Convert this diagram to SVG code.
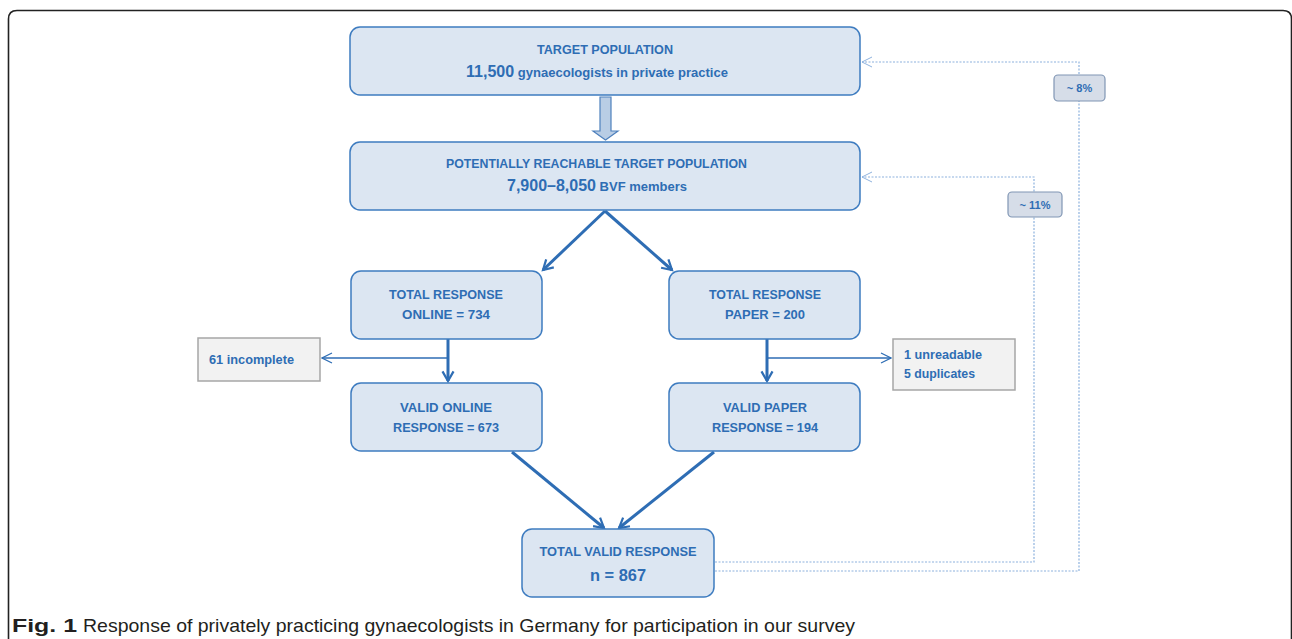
<svg xmlns="http://www.w3.org/2000/svg" width="1292" height="639" viewBox="0 0 1292 639">
<style>
.node{fill:#dce6f2;stroke:#3e7cc0;stroke-width:1.5}
.side{fill:#f2f2f2;stroke:#a6a6a6;stroke-width:1.5}
.pct{fill:#d6dde8;stroke:#8096b4;stroke-width:1.2}
text{font-family:"Liberation Sans",Arial,sans-serif;font-weight:bold;fill:#2e6db4}
.t{font-size:13px}
.big{font-size:16px}
.arr{stroke:#2e6db4;stroke-width:3;fill:none}
.thin{stroke:#2e6db4;stroke-width:1.5;fill:none}
.dot{stroke:#8eb2de;stroke-width:1.2;fill:none;stroke-dasharray:2 1.5}
.cap{font-family:"Liberation Sans Narrow","Liberation Sans",Arial,sans-serif;font-size:19px;fill:#231f20}
</style>
<defs>
<marker id="ah" viewBox="0 0 10 10" refX="8" refY="5" markerWidth="4.6" markerHeight="4.6" orient="auto" markerUnits="strokeWidth">
<path d="M1,1 L8,5 L1,9" fill="none" stroke="#2e6db4" stroke-width="1.6"/>
</marker>
<marker id="ahThin" viewBox="0 0 12 12" refX="11" refY="6" markerWidth="8" markerHeight="8" orient="auto" markerUnits="strokeWidth">
<path d="M1,1 L11,6 L1,11" fill="none" stroke="#2e6db4" stroke-width="1.2"/>
</marker>
<marker id="ahDot" viewBox="0 0 12 12" refX="11" refY="6" markerWidth="10" markerHeight="10" orient="auto" markerUnits="strokeWidth">
<path d="M1,1 L11,6 L1,11" fill="none" stroke="#8eb2de" stroke-width="1"/>
</marker>
</defs>
<rect width="1292" height="639" fill="#ffffff"/>
<path d="M8.5,645 L8.5,19 Q8.5,10.5 17,10.5 L1283,10.5 Q1291.5,10.5 1291.5,19 L1291.5,645" fill="none" stroke="#222" stroke-width="1.6"/>

<g id="connectors">
<path d="M600,97 L611,97 L611,131 L618,131 L605.5,140 L593,131 L600,131 Z" fill="#b9cde5" stroke="#4f81bd" stroke-width="1.2"/>
<line class="arr" x1="605" y1="211" x2="543" y2="270" marker-end="url(#ah)"/>
<line class="arr" x1="605" y1="211" x2="672" y2="270" marker-end="url(#ah)"/>
<line class="arr" x1="448" y1="339" x2="448" y2="381" marker-end="url(#ah)"/>
<line class="arr" x1="767" y1="339" x2="767" y2="381" marker-end="url(#ah)"/>
<line class="thin" x1="448" y1="358" x2="322" y2="358" marker-end="url(#ahThin)"/>
<line class="thin" x1="767" y1="358" x2="891" y2="358" marker-end="url(#ahThin)"/>
<line class="arr" x1="512" y1="452" x2="604" y2="528" marker-end="url(#ah)"/>
<line class="arr" x1="714" y1="452" x2="619" y2="528" marker-end="url(#ah)"/>
<path class="dot" d="M715,562 L1034,562 L1034,177 L862,177" marker-end="url(#ahDot)"/>
<path class="dot" d="M715,571 L1079,571 L1079,62 L862,62" marker-end="url(#ahDot)"/>
</g>

<g id="n-target">
<rect class="node" x="350" y="27" width="510" height="68" rx="10"/>
<text class="t" x="605" y="54" text-anchor="middle" textLength="136" lengthAdjust="spacingAndGlyphs">TARGET POPULATION</text>
<text x="466" y="77" textLength="262" lengthAdjust="spacingAndGlyphs"><tspan class="big">11,500</tspan><tspan class="t"> gynaecologists in private practice</tspan></text>
</g>

<g id="n-reachable">
<rect class="node" x="350" y="142" width="510" height="68" rx="10"/>
<text class="t" x="596.5" y="168" text-anchor="middle" textLength="301" lengthAdjust="spacingAndGlyphs">POTENTIALLY REACHABLE TARGET POPULATION</text>
<text x="507" y="191" textLength="180" lengthAdjust="spacingAndGlyphs"><tspan class="big">7,900–8,050</tspan><tspan class="t"> BVF members</tspan></text>
</g>

<g id="n-online">
<rect class="node" x="351" y="271" width="191" height="68" rx="10"/>
<text class="t" x="446" y="299" text-anchor="middle" textLength="114" lengthAdjust="spacingAndGlyphs">TOTAL RESPONSE</text>
<text class="t" x="446" y="319" text-anchor="middle" textLength="88" lengthAdjust="spacingAndGlyphs">ONLINE = 734</text>
</g>

<g id="n-paper">
<rect class="node" x="669" y="271" width="191" height="68" rx="10"/>
<text class="t" x="765" y="299" text-anchor="middle" textLength="112" lengthAdjust="spacingAndGlyphs">TOTAL RESPONSE</text>
<text class="t" x="765" y="319" text-anchor="middle" textLength="80" lengthAdjust="spacingAndGlyphs">PAPER = 200</text>
</g>

<g id="n-incomplete">
<rect class="side" x="198" y="338" width="122" height="43"/>
<text class="t" x="209" y="364" textLength="85" lengthAdjust="spacingAndGlyphs">61 incomplete</text>
</g>

<g id="n-unreadable">
<rect class="side" x="893" y="339" width="122" height="51"/>
<text class="t" x="904" y="359" textLength="78" lengthAdjust="spacingAndGlyphs">1 unreadable</text>
<text class="t" x="904" y="378" textLength="71" lengthAdjust="spacingAndGlyphs">5 duplicates</text>
</g>

<g id="n-valid-online">
<rect class="node" x="351" y="383" width="191" height="68" rx="10"/>
<text class="t" x="446" y="412" text-anchor="middle" textLength="92" lengthAdjust="spacingAndGlyphs">VALID ONLINE</text>
<text class="t" x="446" y="432" text-anchor="middle" textLength="106" lengthAdjust="spacingAndGlyphs">RESPONSE = 673</text>
</g>

<g id="n-valid-paper">
<rect class="node" x="669" y="383" width="191" height="68" rx="10"/>
<text class="t" x="765" y="412" text-anchor="middle" textLength="84" lengthAdjust="spacingAndGlyphs">VALID PAPER</text>
<text class="t" x="765" y="432" text-anchor="middle" textLength="106" lengthAdjust="spacingAndGlyphs">RESPONSE = 194</text>
</g>

<g id="n-total-valid">
<rect class="node" x="522" y="529" width="192" height="68" rx="10"/>
<text class="t" x="618" y="556" text-anchor="middle" textLength="157" lengthAdjust="spacingAndGlyphs">TOTAL VALID RESPONSE</text>
<text x="618" y="581" text-anchor="middle" style="font-size:16px" textLength="56" lengthAdjust="spacingAndGlyphs">n = 867</text>
</g>

<g id="l-8">
<rect class="pct" x="1054" y="75" width="51" height="26" rx="4"/>
<text x="1079.5" y="92" text-anchor="middle" style="font-size:11px">~ 8%</text>
</g>

<g id="l-11">
<rect class="pct" x="1008" y="192" width="54" height="25" rx="4"/>
<text x="1035" y="209" text-anchor="middle" style="font-size:11px">~ 11%</text>
</g>

<text class="cap" x="12" y="632" font-weight="bold" textLength="65" lengthAdjust="spacingAndGlyphs">Fig. 1</text>
<text class="cap" x="83" y="632" font-weight="normal" style="font-weight:normal" textLength="772" lengthAdjust="spacingAndGlyphs">Response of privately practicing gynaecologists in Germany for participation in our survey</text>
</svg>
